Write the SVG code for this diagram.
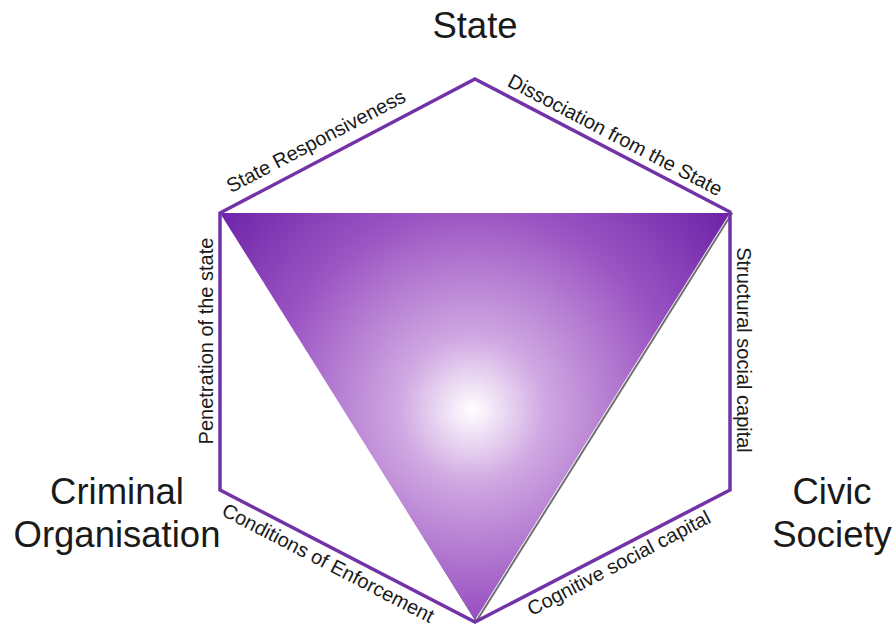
<svg xmlns="http://www.w3.org/2000/svg" width="894" height="628" viewBox="0 0 894 628">
<defs>
<radialGradient id="g" cx="472" cy="410" r="330" gradientUnits="userSpaceOnUse">
<stop offset="0" stop-color="#ffffff"/>
<stop offset="0.22" stop-color="#d0a8e2"/>
<stop offset="0.6" stop-color="#9c55c3"/>
<stop offset="1" stop-color="#6a1fa6"/>
</radialGradient>
<style>
.big{font-family:"Liberation Sans",Arial,sans-serif;font-size:36.5px;fill:#1a1a1a}
.lab{font-family:"Liberation Sans",Arial,sans-serif;font-size:20px;fill:#1a1a1a}
.hex{fill:none;stroke:#7232a8;stroke-width:3.5;stroke-linejoin:miter}
</style>
</defs>
<g id="triangle">
<polygon points="222,213 730,213 475,620" fill="none" stroke="#333" stroke-width="2" transform="translate(1.5,1)" opacity="0.7"/>
<polygon points="220,213 730,213 475,620" fill="url(#g)"/>
</g>
<g id="connectors">
<polygon class="hex" points="475,79 730,212 730,490 475,622 220,490 220,213"/>
</g>
<g id="state"><text class="big" x="475" y="38" text-anchor="middle">State</text></g>
<g id="criminal"><text class="big" x="117" y="504" text-anchor="middle">Criminal</text><text class="big" x="117" y="547" text-anchor="middle">Organisation</text></g>
<g id="civic"><text class="big" x="832" y="504" text-anchor="middle">Civic</text><text class="big" x="832" y="547" text-anchor="middle">Society</text></g>
<g id="edge-labels">
<text class="lab" text-anchor="middle" transform="translate(319,147) rotate(-27.7)">State Responsiveness</text>
<text class="lab" text-anchor="middle" transform="translate(612,141) rotate(27.7)">Dissociation from the State</text>
<text class="lab" text-anchor="middle" transform="translate(213,341) rotate(-90)">Penetration of the state</text>
<text class="lab" text-anchor="middle" transform="translate(737,350) rotate(90)">Structural social capital</text>
<text class="lab" text-anchor="middle" transform="translate(325,569) rotate(27.4)">Conditions of Enforcement</text>
<text class="lab" text-anchor="middle" transform="translate(622,569) rotate(-27.6)">Cognitive social capital</text>
</g>
</svg>
